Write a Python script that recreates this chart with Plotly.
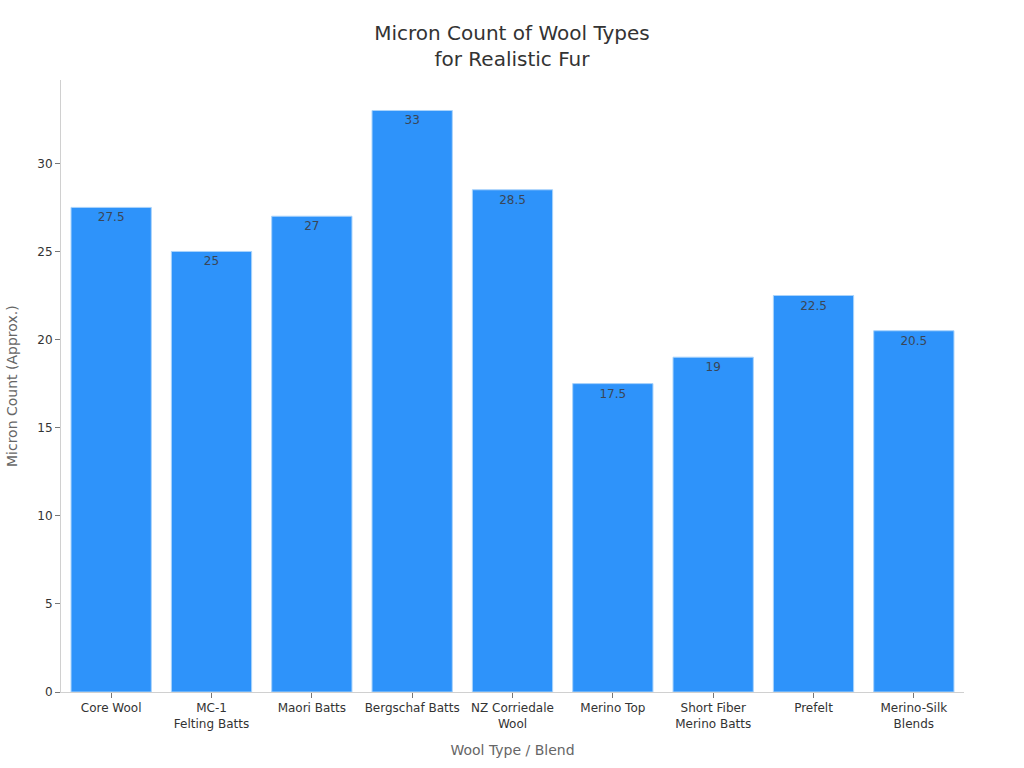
import plotly.graph_objects as go

categories = [
    "Core Wool", "MC-1<br>Felting Batts", "Maori Batts", "Bergschaf Batts",
    "NZ Corriedale<br>Wool", "Merino Top", "Short Fiber<br>Merino Batts",
    "Prefelt", "Merino-Silk<br>Blends",
]
microns = [27.5, 25, 27, 33, 28.5, 17.5, 19, 22.5, 20.5]
y_ticks = [0, 5, 10, 15, 20, 25, 30]

FONT = "DejaVu Sans"
axis_line = "#d0d0d0"

fig = go.Figure()

fig.add_trace(
    go.Bar(
        x=categories,
        y=microns,
        text=[str(v) for v in microns],
        textposition="inside",
        insidetextanchor="end",
        textangle=0,
        textfont=dict(family=FONT, size=12, color="#3a4657"),
        marker=dict(color="#2e93fa", line=dict(color="#a9d3fb", width=1)),
        cliponaxis=False,
    )
)

fig.update_layout(
    width=1024,
    height=768,
    title=dict(
        text="Micron Count of Wool Types<br>for Realistic Fur",
        font=dict(family=FONT, size=20, color="#333333"),
        x=0.5,
        xanchor="center",
        y=0.9484,
        yanchor="middle",
    ),
    font=dict(family=FONT, color="#333333"),
    paper_bgcolor="white",
    plot_bgcolor="white",
    bargap=0.2,
    showlegend=False,
    margin=dict(l=61, r=60, t=80, b=76),
)

# y title as an annotation, standoff is ignored without automargin
fig.add_annotation(
    text="Micron Count (Approx.)",
    xref="paper",
    yref="paper",
    x=0,
    y=0.5,
    xanchor="center",
    yanchor="middle",
    xshift=-49,
    textangle=-90,
    showarrow=False,
    font=dict(family=FONT, size=14, color="#666666"),
)

fig.update_xaxes(
    title=dict(text="Wool Type / Blend", font=dict(family=FONT, size=14, color="#666666"), standoff=15),
    tickfont=dict(family=FONT, size=12, color="#333333"),
    showgrid=False,
    showline=True,
    linecolor=axis_line,
    linewidth=1,
    ticks="outside",
    ticklen=5,
    tickcolor="#777777",
    automargin=False,
)
fig.update_yaxes(
    tickfont=dict(family=FONT, size=12, color="#333333"),
    tickvals=y_ticks,
    range=[0, 34.73],
    showgrid=False,
    zeroline=False,
    showline=True,
    linecolor=axis_line,
    linewidth=1,
    ticks="outside",
    ticklen=5,
    tickcolor="#777777",
    automargin=False,
)

# drop the default 8px page margin so the figure fills the window, no modebar in the photo
fig.write_html(
    "out.html",
    config={"displayModeBar": False},
    post_script="document.body.style.margin = '0';",
)
